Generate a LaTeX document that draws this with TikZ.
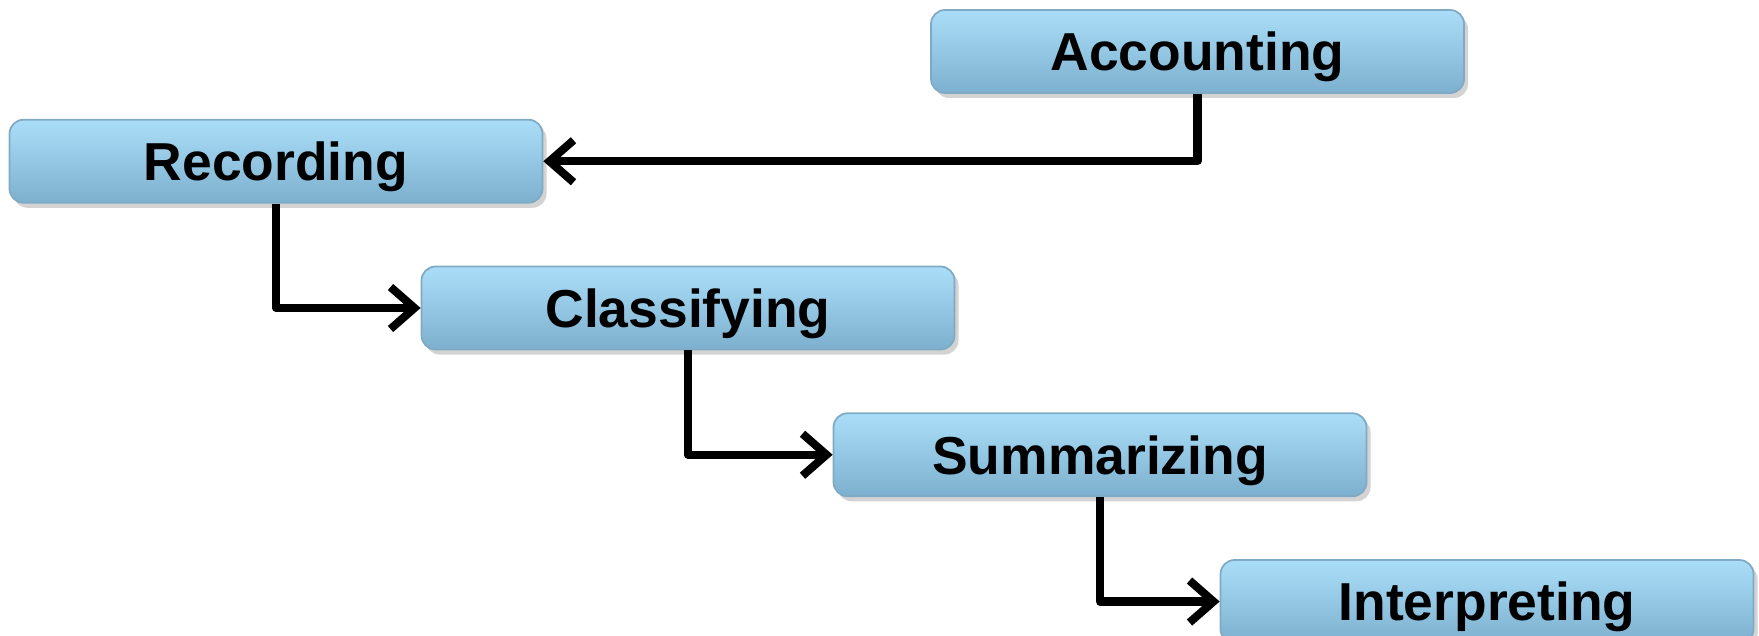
\documentclass[tikz,border=0pt]{standalone}
\usepackage{fontspec}
\setmainfont{Liberation Sans}
\usepackage{tikz}
\usetikzlibrary{shadows,arrows.meta,positioning}
\usepackage{xcolor}
\definecolor{boxtop}{RGB}{170,222,248}
\definecolor{boxbot}{RGB}{124,176,206}
\definecolor{boxline}{RGB}{128,170,196}

\begin{document}
\begin{tikzpicture}[
  node distance=0.62cm,%
  every node/.style={minimum width=5.33cm,minimum height=0.83cm,align=center,%
    text depth=0pt,font=\fontsize{15.2}{18}\selectfont\bfseries},%
  dr/.style={drop shadow={opacity=0.35,shadow xshift=0.04cm,shadow yshift=-0.05cm}},%
  e/.style={-{Straight Barb[length=2.4mm,width=4.2mm]},line width=2.3pt,line join=round},%
  re/.style={rounded corners=0.14cm,},%
  bl/.style={top color=boxtop,bottom color=boxbot,draw=boxline,line width=0.5pt},%
  ]
  \useasboundingbox (0,0) rectangle (17.59,-6.36);

  \node (acc) [re,bl,dr] at (11.975,-0.515) {Accounting};

  \node (rec) [re,bl,dr,below=0.25cm of acc,xshift=-9.215cm%
  ] {Recording};
  \node (cls) [re,bl,dr,below=of rec,xshift=4.12cm%
  ] {Classifying};
  \node (sum) [re,bl,dr,below=of cls,xshift=4.12cm%
  ] {Summarizing};
  \node (int) [re,bl,dr,below=of sum,xshift=3.87cm%
  ] {Interpreting};

  \draw [e] (acc.south) |- (rec.east);
  \draw [e] (rec.south) |- (cls.west);
  \draw [e] (cls.south) |- (sum.west);
  \draw [e] (sum.south) |- (int.west);
\end{tikzpicture}
\end{document}
